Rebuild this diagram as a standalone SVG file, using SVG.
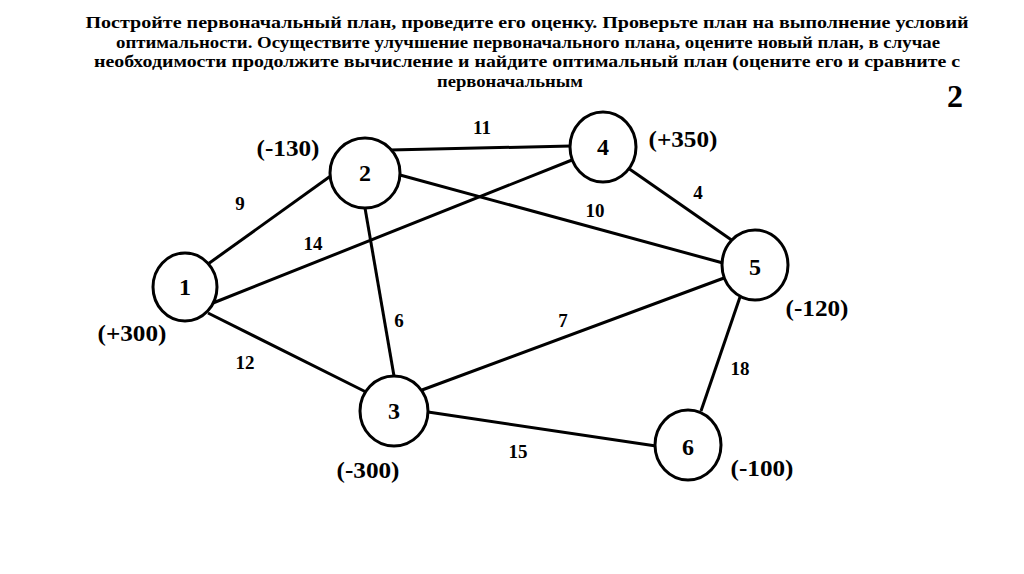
<svg xmlns="http://www.w3.org/2000/svg" width="1024" height="574" viewBox="0 0 1024 574">
<style>
.t{font-family:"Liberation Serif","Times New Roman",serif;font-weight:bold;fill:#000}
.title{font-size:17.5px;text-anchor:middle}
.n{font-size:24px;text-anchor:middle;dominant-baseline:central}
.w{font-size:19px;text-anchor:middle;dominant-baseline:central}
.s{font-size:24px;text-anchor:middle;dominant-baseline:central}
.c{fill:#fff;stroke:#000;stroke-width:3}
.e{stroke:#000;stroke-width:3;fill:none}
</style>
<rect width="1024" height="574" fill="#fff"/>
<g id="title">
<text class="t title" x="527" y="28" textLength="883" lengthAdjust="spacingAndGlyphs">Постройте первоначальный план, проведите его оценку. Проверьте план на выполнение условий</text>
<text class="t title" x="528" y="48" textLength="824" lengthAdjust="spacingAndGlyphs">оптимальности. Осуществите улучшение первоначального плана, оцените новый план, в случае</text>
<text class="t title" x="527" y="67" textLength="866" lengthAdjust="spacingAndGlyphs">необходимости продолжите вычисление и найдите оптимальный план (оцените его и сравните с</text>
<text class="t title" x="510" y="87" textLength="146" lengthAdjust="spacingAndGlyphs">первоначальным</text>
<text class="t" x="955" y="107" font-size="32" text-anchor="middle">2</text>
</g>
<g id="connectors">
<line class="e" x1="208" y1="264" x2="332" y2="175"/>
<line class="e" x1="213" y1="303" x2="572" y2="160"/>
<line class="e" x1="208" y1="313" x2="368" y2="393"/>
<line class="e" x1="390" y1="150" x2="571" y2="146"/>
<line class="e" x1="400" y1="175" x2="723" y2="263"/>
<line class="e" x1="365" y1="208" x2="394" y2="376"/>
<line class="e" x1="628" y1="168" x2="733" y2="241"/>
<line class="e" x1="422" y1="390" x2="724" y2="278"/>
<line class="e" x1="428" y1="412" x2="656" y2="446"/>
<line class="e" x1="740" y1="297" x2="701" y2="411"/>
<text class="t w" x="482" y="127">11</text>
<text class="t w" x="240" y="203">9</text>
<text class="t w" x="313" y="243">14</text>
<text class="t w" x="595" y="210">10</text>
<text class="t w" x="698" y="192">4</text>
<text class="t w" x="399" y="320">6</text>
<text class="t w" x="563" y="320">7</text>
<text class="t w" x="245" y="362">12</text>
<text class="t w" x="740" y="368">18</text>
<text class="t w" x="518" y="451">15</text>
</g>
<g id="node1"><ellipse class="c" cx="185" cy="287" rx="32" ry="34"/><text class="t n" x="185" y="287">1</text><text class="t s" x="132" y="333" textLength="69" lengthAdjust="spacingAndGlyphs">(+300)</text></g>
<g id="node2"><ellipse class="c" cx="365" cy="173" rx="35" ry="35"/><text class="t n" x="365" y="173">2</text><text class="t s" x="288" y="148" textLength="63" lengthAdjust="spacingAndGlyphs">(-130)</text></g>
<g id="node3"><ellipse class="c" cx="394" cy="411" rx="34" ry="35"/><text class="t n" x="394" y="411">3</text><text class="t s" x="368" y="470" textLength="63" lengthAdjust="spacingAndGlyphs">(-300)</text></g>
<g id="node4"><ellipse class="c" cx="603" cy="147" rx="33" ry="35"/><text class="t n" x="603" y="147">4</text><text class="t s" x="683" y="139" textLength="69" lengthAdjust="spacingAndGlyphs">(+350)</text></g>
<g id="node5"><ellipse class="c" cx="755" cy="265" rx="33" ry="35"/><text class="t n" x="755" y="267">5</text><text class="t s" x="817" y="308" textLength="63" lengthAdjust="spacingAndGlyphs">(-120)</text></g>
<g id="node6"><ellipse class="c" cx="688" cy="445" rx="33" ry="35"/><text class="t n" x="688" y="447">6</text><text class="t s" x="762" y="468" textLength="63" lengthAdjust="spacingAndGlyphs">(-100)</text></g>
</svg>
